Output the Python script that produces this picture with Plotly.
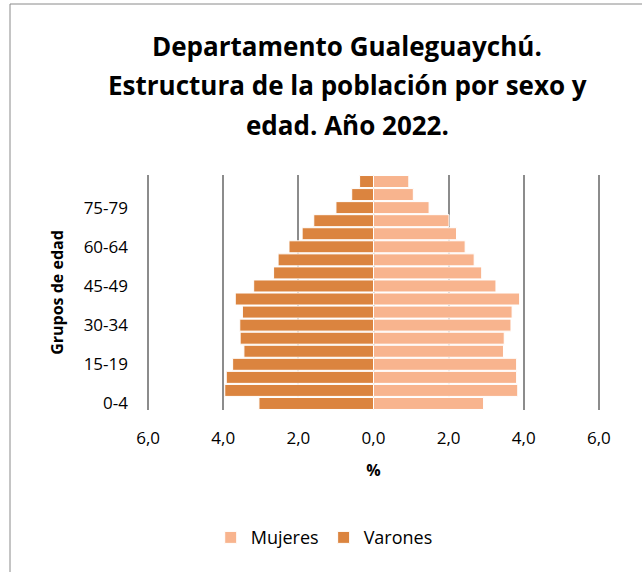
import plotly.graph_objects as go

age_groups = ["0-4", "5-9", "10-14", "15-19", "20-24", "25-29", "30-34", "35-39",
              "40-44", "45-49", "50-54", "55-59", "60-64", "65-69", "70-74",
              "75-79", "80-84", "85+"]
varones = [3.05, 3.96, 3.92, 3.75, 3.45, 3.55, 3.56, 3.49, 3.68, 3.19,
           2.66, 2.54, 2.25, 1.90, 1.59, 1.00, 0.58, 0.37]
mujeres = [2.93, 3.84, 3.81, 3.81, 3.46, 3.48, 3.66, 3.69, 3.89, 3.26,
           2.88, 2.68, 2.44, 2.21, 2.01, 1.48, 1.06, 0.94]
x_ticks = [-6, -4, -2, 0, 2, 4, 6]
x_tick_labels = ["6,0", "4,0", "2,0", "0,0", "2,0", "4,0", "6,0"]
y_tick_labels = ["0-4", "15-19", "30-34", "45-49", "60-64", "75-79"]
title_lines = ["Departamento Gualeguaychú.",
               "Estructura de la población por sexo y",
               "edad. Año 2022."]

font = "Open Sans"
W, H = 642, 572

fig = go.Figure()
fig.add_trace(go.Bar(
    y=age_groups, x=mujeres, orientation="h", name="Mujeres",
    marker=dict(color="#F8B48E", line=dict(color="white", width=1)),
))
fig.add_trace(go.Bar(
    y=age_groups, x=[-v for v in varones], orientation="h", name="Varones",
    marker=dict(color="#DB843F", line=dict(color="white", width=1)),
))

# title as separate lines to control spacing
for i, line in enumerate(title_lines):
    fig.add_annotation(
        text="<b>" + line + "</b>", xref="paper", yref="paper",
        x=(347 - 147) / 453, y=(410 - (46 + 39.5 * i)) / 235,
        xanchor="center", yanchor="middle", showarrow=False,
        font=dict(family=font, size=26, color="#000000"),
    )

fig.update_layout(
    width=W, height=H,
    margin=dict(l=147, r=42, t=175, b=162, autoexpand=False),
    paper_bgcolor="white", plot_bgcolor="white",
    barmode="relative", bargap=0.08,
    font=dict(family=font, color="#000000"),
    xaxis=dict(
        range=[-6.03, 6.03], tickvals=x_ticks, ticktext=x_tick_labels,
        showgrid=True, gridcolor="#8C8C8C", gridwidth=2,
        zeroline=False, showline=False, automargin=False,
        tickfont=dict(size=17), ticks="", ticklabelstandoff=16,
        title=dict(text="<b>%</b>", font=dict(size=16), standoff=16),
    ),
    yaxis=dict(
        categoryorder="array", categoryarray=age_groups,
        tickvals=y_tick_labels, ticktext=y_tick_labels,
        showgrid=False, zeroline=False, showline=False, automargin=False,
        tickfont=dict(size=17), ticks="", ticklabelstandoff=18,
        title=dict(text="<b>Grupos de edad</b>", font=dict(size=16), standoff=16),
    ),
    legend=dict(
        orientation="h", x=0.505, xanchor="center", xref="container",
        y=0.06, yanchor="middle", yref="container",
        font=dict(size=18), traceorder="normal",
    ),
    shapes=[dict(
        type="rect", xref="paper", yref="paper",
        x0=(10 - 147) / 453, x1=(645 - 147) / 453,
        y0=(410 - 575) / 235, y1=(410 - 4) / 235,
        line=dict(color="#8A8A8A", width=1), layer="above",
    )],
)

fig.write_html("out.html", config={"displayModeBar": False},
               post_script="document.body.style.margin='0';")
